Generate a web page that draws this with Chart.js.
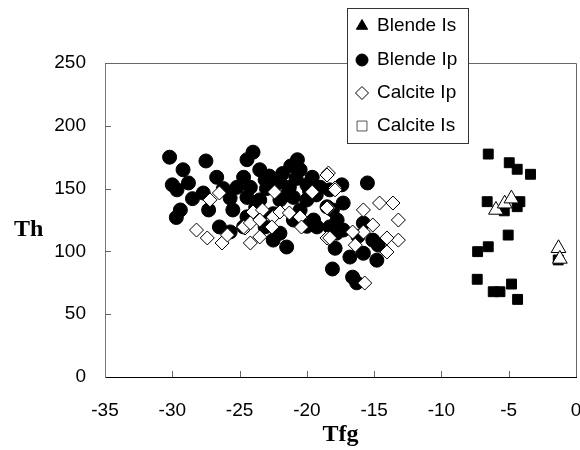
<!DOCTYPE html>
<html>
<head>
<meta charset="utf-8">
<script src="https://cdn.jsdelivr.net/npm/chart.js@4/dist/chart.umd.min.js"></script>
<style>
  html, body { margin: 0; padding: 0; background: #fff; }
  #wrap { width: 580px; height: 450px; }
</style>
</head>
<body>
<div id="wrap"><canvas id="chart" width="580" height="450"></canvas></div>
<script>
// Blende Is (triangles)
const blendeIsX = [-5.95, -5.3, -4.8, -1.3, -1.2];
const blendeIsY = [133, 138, 142, 102.5, 94];

// Blende Ip (circles)
const blendeIpX = [
  -30.2, -29.2, -27.5, -26.7, -30.0, -29.65, -28.8, -28.5, -29.4, -29.7,
  -27.3, -27.7, -26.5, -25.7, -25.5, -25.7, -25.2, -24.45, -24.0, -24.7,
  -23.5, -23.1, -21.8, -20.7, -20.5, -19.6, -19.0, -24.2, -22.5, -21.3,
  -21.0, -23.5, -24.45, -22.0, -20.0, -20.5, -19.5, -19.25, -22.0, -21.5,
  -22.5, -24.45, -24.7, -23.1, -18.3, -18.1, -17.8, -18.1, -17.4, -15.5,
  -18.3, -17.3, -18.5, -17.75, -17.3, -15.8, -15.1, -15.8, -16.8, -14.8,
  -17.9, -16.6, -16.3, -22.8, -21.2, -20.0, -19.3, -23.8, -26.2, -22.5,
  -14.7, -16.2, -23.0, -22.0, -21.5, -20.8, -19.8, -23.5, -21.0, -20.0
];
const blendeIpY = [
  175, 165, 172, 159, 153, 149, 154.5, 142, 133, 127,
  133, 146.5, 119.5, 115.5, 133, 142.5, 151, 173, 179, 159,
  165, 157, 162, 173, 165, 159, 151, 151, 151, 151,
  143, 141, 143, 141, 141, 133, 125, 119.5, 114.5, 103.5,
  109, 127.5, 119.5, 119.5, 119.5, 133, 114.5, 86, 153, 154.5,
  149, 138.5, 135.5, 125, 117, 122.5, 109, 98.5, 95.5, 93,
  102.5, 79.5, 75, 160, 168, 153, 145, 135, 150, 130,
  105, 112, 150, 155, 145, 158, 148, 128, 125, 120
];

// Calcite Ip (diamonds)
const calciteIpX = [
  -26.5, -27.2, -28.2, -27.4, -26.3, -25.9, -24.6, -22.4, -19.6, -18.4,
  -17.9, -18.4, -24.0, -23.3, -24.7, -24.2, -23.5, -22.5, -22.6, -22.0,
  -21.3, -20.5, -20.4, -24.2, -23.5, -18.5, -18.5, -17.9, -18.5, -15.8,
  -14.6, -13.6, -13.2, -13.2, -14.05, -15.1, -15.8, -16.6, -16.4, -14.05,
  -18.3, -15.7
];
const calciteIpY = [
  146.5, 141, 117, 110.7, 106.7, 113, 118.6, 147.3, 147.3, 162.4,
  150.5, 134.6, 131.4, 133, 119.4, 122.6, 125, 127.4, 119.4, 131.4,
  130.6, 127.4, 119.4, 106.7, 111.5, 110.7, 160.8, 149, 134.6, 133,
  138.5, 138.5, 125, 109, 110.7, 121, 115.4, 115.4, 105, 99.5,
  110.7, 74.8
];

// Calcite Is (squares)
const calciteIsX = [
  -6.52, -4.96, -4.37, -3.38, -6.6, -4.17, -4.37, -5.33, -5.04, -6.52,
  -7.31, -1.32, -7.34, -6.15, -5.65, -4.79, -4.34
];
const calciteIsY = [
  177.5, 170.6, 165.4, 161.4, 139.6, 139.6, 135.6, 132.3, 113, 103.7,
  99.8, 93.2, 77.8, 67.9, 67.9, 74, 61.8
];

const xTicks = [-35, -30, -25, -20, -15, -10, -5, 0];
const yTicks = [0, 50, 100, 150, 200, 250];

const seriesNames = ["Blende Is", "Blende Ip", "Calcite Ip", "Calcite Is"];

function toPoints(xs, ys) {
  return xs.map((x, i) => ({ x: x, y: ys[i] }));
}

const tickFont = { family: "'Liberation Sans', Arial, sans-serif", size: 19 };

// frame, inward ticks, axis title "Th"/"Tfg" and the boxed legend
const framePlugin = {
  id: "frame",
  afterDraw(chart) {
    const ctx = chart.ctx;
    const a = chart.chartArea;
    const xs = chart.scales.x;
    const ys = chart.scales.y;
    ctx.save();

    ctx.strokeStyle = "#666";
    ctx.lineWidth = 1;
    ctx.beginPath();
    ctx.moveTo(a.left, Math.round(a.top) + 0.5);
    ctx.lineTo(Math.round(a.right) + 0.5, Math.round(a.top) + 0.5);
    ctx.lineTo(Math.round(a.right) + 0.5, a.bottom);
    ctx.stroke();

    ctx.beginPath();
    xTicks.slice(1, -1).forEach(v => {
      const px = Math.round(xs.getPixelForValue(v)) + 0.5;
      ctx.moveTo(px, a.bottom);
      ctx.lineTo(px, a.bottom - 6);
    });
    yTicks.slice(1, -1).forEach(v => {
      const py = Math.round(ys.getPixelForValue(v)) + 0.5;
      ctx.moveTo(a.left, py);
      ctx.lineTo(a.left + 6, py);
    });
    ctx.stroke();

    ctx.fillStyle = "#000";
    ctx.font = "bold 24px 'Liberation Serif', 'Times New Roman', serif";
    ctx.textBaseline = "alphabetic";
    ctx.textAlign = "left";
    ctx.fillText("Th", 14, 236);
    ctx.textAlign = "center";
    ctx.fillText("Tfg", (a.left + a.right) / 2, 441);

    // legend
    const lx = 347.5, ly = 8.5, lw = 121, lh = 135;
    ctx.fillStyle = "#fff";
    ctx.fillRect(lx, ly, lw, lh);
    ctx.strokeStyle = "#333";
    ctx.strokeRect(lx, ly, lw, lh);

    const marks = [
      { pointStyle: "triangle", radius: 6.5, fill: "#000", stroke: "#000" },
      { pointStyle: "circle", radius: 6, fill: "#000", stroke: "#000" },
      { pointStyle: "rectRot", radius: 6.5, fill: "#fff", stroke: "#000" },
      { pointStyle: "rect", radius: 7, fill: "#fff", stroke: "#555" }
    ];
    const rowY = [26, 60, 93, 126];
    ctx.font = "19px 'Liberation Sans', Arial, sans-serif";
    ctx.textAlign = "left";
    ctx.textBaseline = "middle";
    seriesNames.forEach((name, i) => {
      const m = marks[i];
      ctx.fillStyle = m.fill;
      ctx.strokeStyle = m.stroke;
      ctx.lineWidth = 1;
      Chart.helpers.drawPoint(ctx, { pointStyle: m.pointStyle, radius: m.radius, rotation: 0, borderWidth: 1 }, 362, rowY[i]);
      ctx.fillStyle = "#000";
      ctx.fillText(name, 377, rowY[i]);
    });

    ctx.restore();
  }
};

new Chart(document.getElementById("chart"), {
  type: "scatter",
  data: {
    datasets: [
      {
        label: seriesNames[0],
        data: toPoints(blendeIsX, blendeIsY),
        pointStyle: "triangle",
        pointRadius: 8.5,
        backgroundColor: "#fff",
        borderColor: "#000",
        borderWidth: 1,
        order: 1
      },
      {
        label: seriesNames[1],
        data: toPoints(blendeIpX, blendeIpY),
        pointStyle: "circle",
        pointRadius: 7,
        backgroundColor: "#000",
        borderColor: "#000",
        borderWidth: 1,
        order: 4
      },
      {
        label: seriesNames[2],
        data: toPoints(calciteIpX, calciteIpY),
        pointStyle: "rectRot",
        pointRadius: 7,
        backgroundColor: "#fff",
        borderColor: "#000",
        borderWidth: 1,
        order: 3
      },
      {
        label: seriesNames[3],
        data: toPoints(calciteIsX, calciteIsY),
        pointStyle: "rect",
        pointRadius: 7,
        backgroundColor: "#000",
        borderColor: "#000",
        borderWidth: 1,
        order: 2
      }
    ]
  },
  options: {
    responsive: false,
    animation: false,
    events: [],
    layout: { autoPadding: false, padding: { top: 63, right: 4, left: 0, bottom: 0 } },
    plugins: {
      legend: { display: false },
      tooltip: { enabled: false }
    },
    scales: {
      x: {
        type: "linear",
        min: -35,
        max: 0,
        afterBuildTicks: s => { s.ticks = xTicks.map(v => ({ value: v })); },
        ticks: { color: "#000", font: tickFont, padding: 22, maxRotation: 0 },
        grid: { display: false, drawTicks: false },
        border: { display: true, color: "#000", width: 1 },
        afterFit: s => { s.height = 73; s.paddingLeft = 0; s.paddingRight = 0; }
      },
      y: {
        type: "linear",
        min: 0,
        max: 250,
        afterBuildTicks: s => { s.ticks = yTicks.map(v => ({ value: v })); },
        ticks: { color: "#000", font: tickFont, padding: 19 },
        grid: { display: false, drawTicks: false },
        border: { display: true, color: "#777", width: 1 },
        afterFit: s => { s.width = 105; s.paddingTop = 0; s.paddingBottom = 0; }
      }
    }
  },
  plugins: [framePlugin]
});
</script>
</body>
</html>
